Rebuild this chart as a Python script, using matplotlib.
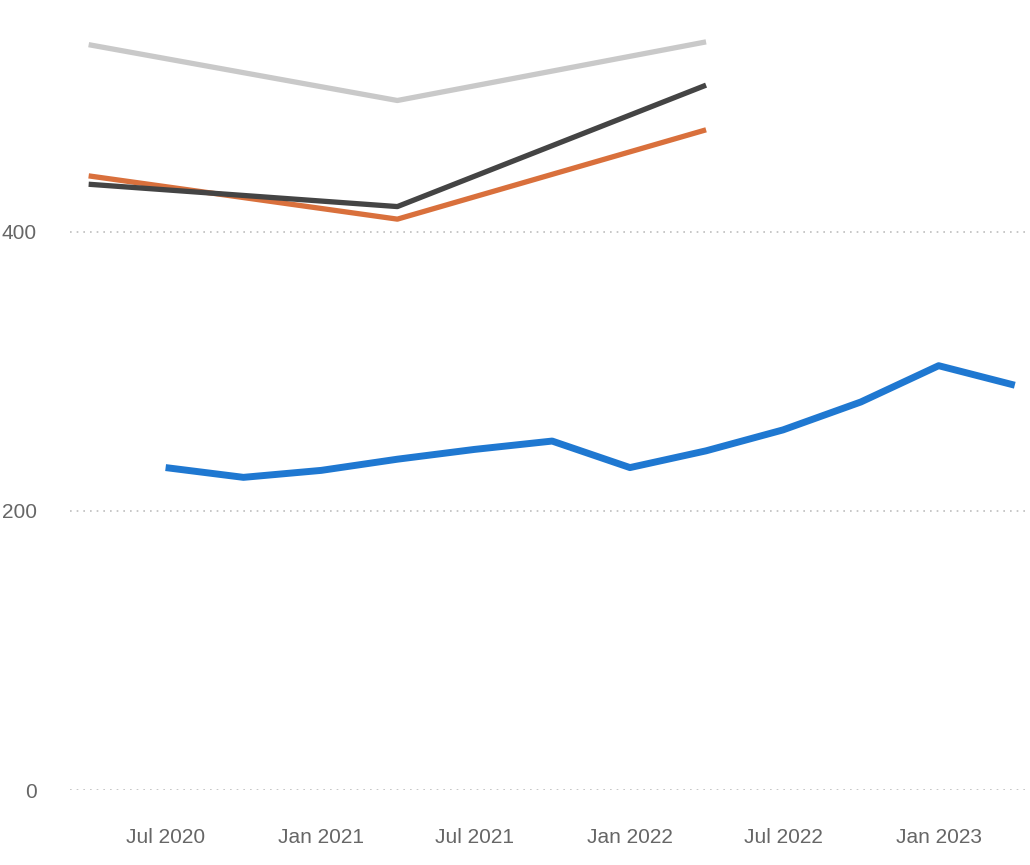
import matplotlib
matplotlib.use("Agg")
import matplotlib.pyplot as plt
import pandas as pd

# quarterly series (blue)
quarter_dates = ["2020-07-01", "2020-10-01", "2021-01-01", "2021-04-01",
                 "2021-07-01", "2021-10-01", "2022-01-01", "2022-04-01",
                 "2022-07-01", "2022-10-01", "2023-01-01", "2023-04-01"]
blue_values = [231, 224, 229, 237, 244, 250, 231, 243, 258, 278, 304, 290]

# yearly series
year_dates = ["2020-04-01", "2021-04-01", "2022-04-01"]
light_gray_values = [534, 494, 536]
dark_gray_values = [434, 418, 505]
orange_values = [440, 409, 473]

x_ticks = ["2020-07-01", "2021-01-01", "2021-07-01", "2022-01-01",
           "2022-07-01", "2023-01-01"]
x_tick_labels = ["Jul 2020", "Jan 2021", "Jul 2021", "Jan 2022",
                 "Jul 2022", "Jan 2023"]
y_ticks = [0, 200, 400]

plt.rcParams['font.family'] = ['Liberation Sans', 'DejaVu Sans']

fig = plt.figure(figsize=(10.3, 8.65), dpi=100)
ax = fig.add_axes([0.068, 0.0867, 0.932, 0.9133])

qd = pd.to_datetime(quarter_dates)
yd = pd.to_datetime(year_dates)

ax.plot(yd, light_gray_values, color="#c9c9c9", lw=3.8, solid_capstyle="butt")
ax.plot(yd, orange_values, color="#d9703c", lw=3.8, solid_capstyle="butt")
ax.plot(yd, dark_gray_values, color="#444444", lw=3.8, solid_capstyle="butt")
ax.plot(qd, blue_values, color="#1f78d1", lw=5, solid_capstyle="butt")

ax.set_xlim(pd.Timestamp("2020-03-10"), pd.Timestamp("2023-04-19"))
ax.set_ylim(0, 566)

ax.set_yticks(y_ticks)
ax.set_yticklabels([str(v) for v in y_ticks])
ax.set_xticks(pd.to_datetime(x_ticks))
ax.set_xticklabels(x_tick_labels)

ax.tick_params(axis="both", length=0, labelsize=15, colors="#666666")
ax.tick_params(axis="y", pad=24)
ax.tick_params(axis="x", pad=27)

ax.grid(axis="y", linestyle=(0, (1, 3)), color="#bdbdbd", lw=1.2)
ax.set_axisbelow(True)
for s in ax.spines.values():
    s.set_visible(False)

fig.savefig("out.png", dpi=100)
